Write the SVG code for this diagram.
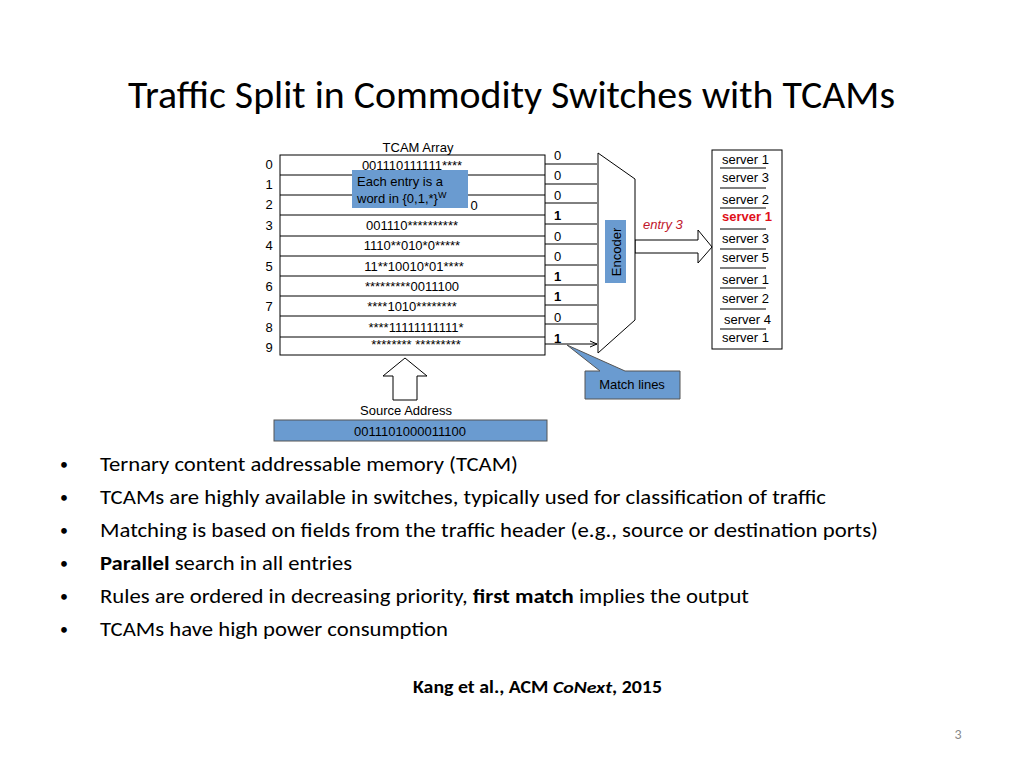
<svg xmlns="http://www.w3.org/2000/svg" width="1024" height="768" viewBox="0 0 1024 768">
<style>
.a{font-family:"Liberation Sans",Arial,sans-serif;font-size:13px;fill:#000}
.c{font-family:Calibri,Carlito,"Open Sans",sans-serif;fill:#000}
.ln{stroke:#000;stroke-width:1;fill:none}
.blue{fill:#6a9bd0;stroke:#555;stroke-width:1}
</style>
<defs><marker id="ah" markerWidth="8" markerHeight="8" refX="7" refY="4" orient="auto" markerUnits="userSpaceOnUse"><path d="M0,1 L7,4 L0,7" fill="none" stroke="#000"/></marker></defs>
<rect width="1024" height="768" fill="#fff"/>
<text x="128" y="108" class="c" font-size="39" textLength="767" lengthAdjust="spacingAndGlyphs">Traffic Split in Commodity Switches with TCAMs</text>
<g id="tcam">
<text x="418" y="152" class="a" text-anchor="middle">TCAM Array</text>
<rect x="280" y="155" width="265" height="200" class="ln"/>
<path class="ln" d="M280,175H545M280,195H545M280,215H545M280,236H545M280,256H545M280,276H545M280,296H545M280,316H545M280,337H545"/>
<g class="a" text-anchor="middle">
<text x="269" y="169">0</text><text x="269" y="189">1</text><text x="269" y="209">2</text><text x="269" y="230">3</text><text x="269" y="250">4</text><text x="269" y="271">5</text><text x="269" y="291">6</text><text x="269" y="311">7</text><text x="269" y="332">8</text><text x="269" y="352">9</text>
<text x="412" y="170">001110111111****</text>
<text x="474" y="210">0</text>
<text x="412" y="230">001110**********</text>
<text x="412" y="250">1110**010*0*****</text>
<text x="414" y="271">11**10010*01****</text>
<text x="412" y="291">*********0011100</text>
<text x="412" y="311">****1010********</text>
<text x="416" y="332">****11111111111*</text>
<text x="416" y="349">******** *********</text>
</g>
<rect x="352" y="170" width="116" height="38" fill="#6a9bd0"/>
<text x="357" y="186" class="a">Each entry is a</text>
<text x="357" y="203" class="a">word in {0,1,*}<tspan font-size="9" dy="-5">W</tspan></text>
</g>
<g id="connectors">
<path class="ln" marker-end="url(#ah)" d="M545,164H597M545,184H597M545,203H597M545,224H597M545,244H597M545,265H597M545,285H597M545,305H597M545,324H597M545,344H597"/>
<g class="a" font-size="12">
<text x="554" y="160">0</text><text x="554" y="180">0</text><text x="554" y="200">0</text><text x="554" y="220" font-weight="bold">1</text><text x="554" y="241">0</text><text x="554" y="261">0</text><text x="554" y="281" font-weight="bold">1</text><text x="554" y="301" font-weight="bold">1</text><text x="554" y="322">0</text><text x="554" y="343" font-weight="bold">1</text>
</g>
<path d="M635,240H698V230L712,247L698,263V253H635Z" fill="#fff" stroke="#000"/>
<text x="643" y="229" class="a" style="fill:#c0152a;font-style:italic">entry 3</text>
<path d="M393,400V376H383L405,358L427,376H417V400Z" fill="#fff" stroke="#000"/>
</g>
<g id="encoder">
<path d="M598,153L635,179V320L598,353Z" fill="#fff" stroke="#000"/>
<rect x="605" y="220" width="21" height="63" fill="#6a9bd0"/>
<text transform="translate(621,252) rotate(-90)" class="a" text-anchor="middle">Encoder</text>
</g>
<g id="servers">
<rect x="712" y="150" width="70" height="199" class="ln"/>
<path class="ln" d="M720,168H766M720,188H766M720,208H766M720,229H766M720,249H766M720,268H766M720,288H766M720,309H766M720,329H766"/>
<g class="a" font-size="12">
<text x="722" y="164">server 1</text><text x="722" y="182">server 3</text><text x="722" y="204">server 2</text><text x="722" y="221" font-weight="bold" style="fill:#e0101a">server 1</text><text x="722" y="243">server 3</text><text x="722" y="262">server 5</text><text x="722" y="284">server 1</text><text x="722" y="303">server 2</text><text x="724" y="324">server 4</text><text x="722" y="342">server 1</text>
</g>
</g>
<g id="matchlines">
<path d="M585,371H600L567,345L625,371H680V399H585Z" fill="#6a9bd0" stroke="#555"/>
<text x="632" y="389" class="a" text-anchor="middle">Match lines</text>
</g>
<g id="source">
<text x="406" y="415" class="a" font-size="12" text-anchor="middle">Source Address</text>
<rect x="274" y="420" width="273" height="21" class="blue"/>
<text x="410" y="436" class="a" text-anchor="middle">0011101000011100</text>
</g>
<g class="c" font-size="21">
<g font-size="16"><text x="60" y="470">•</text><text x="60" y="503">•</text><text x="60" y="536">•</text><text x="60" y="569">•</text><text x="60" y="602">•</text><text x="60" y="635">•</text></g>
<text x="100" y="471" textLength="418" lengthAdjust="spacingAndGlyphs">Ternary content addressable memory (TCAM)</text>
<text x="100" y="504" textLength="726" lengthAdjust="spacingAndGlyphs">TCAMs are highly available in switches, typically used for classification of traffic</text>
<text x="100" y="537" textLength="778" lengthAdjust="spacingAndGlyphs">Matching is based on fields from the traffic header (e.g., source or destination ports)</text>
<text x="100" y="570" textLength="252" lengthAdjust="spacingAndGlyphs"><tspan font-weight="bold">Parallel</tspan> search in all entries</text>
<text x="100" y="603" textLength="649" lengthAdjust="spacingAndGlyphs">Rules are ordered in decreasing priority, <tspan font-weight="bold">first match</tspan> implies the output</text>
<text x="100" y="636" textLength="348" lengthAdjust="spacingAndGlyphs">TCAMs have high power consumption</text>
</g>
<text x="413" y="693" class="c" font-size="17" font-weight="bold" textLength="249" lengthAdjust="spacingAndGlyphs">Kang et al., ACM <tspan font-style="italic">CoNext</tspan>, 2015</text>
<text x="958" y="739" class="c" font-size="14" style="fill:#888" text-anchor="middle">3</text>
</svg>
